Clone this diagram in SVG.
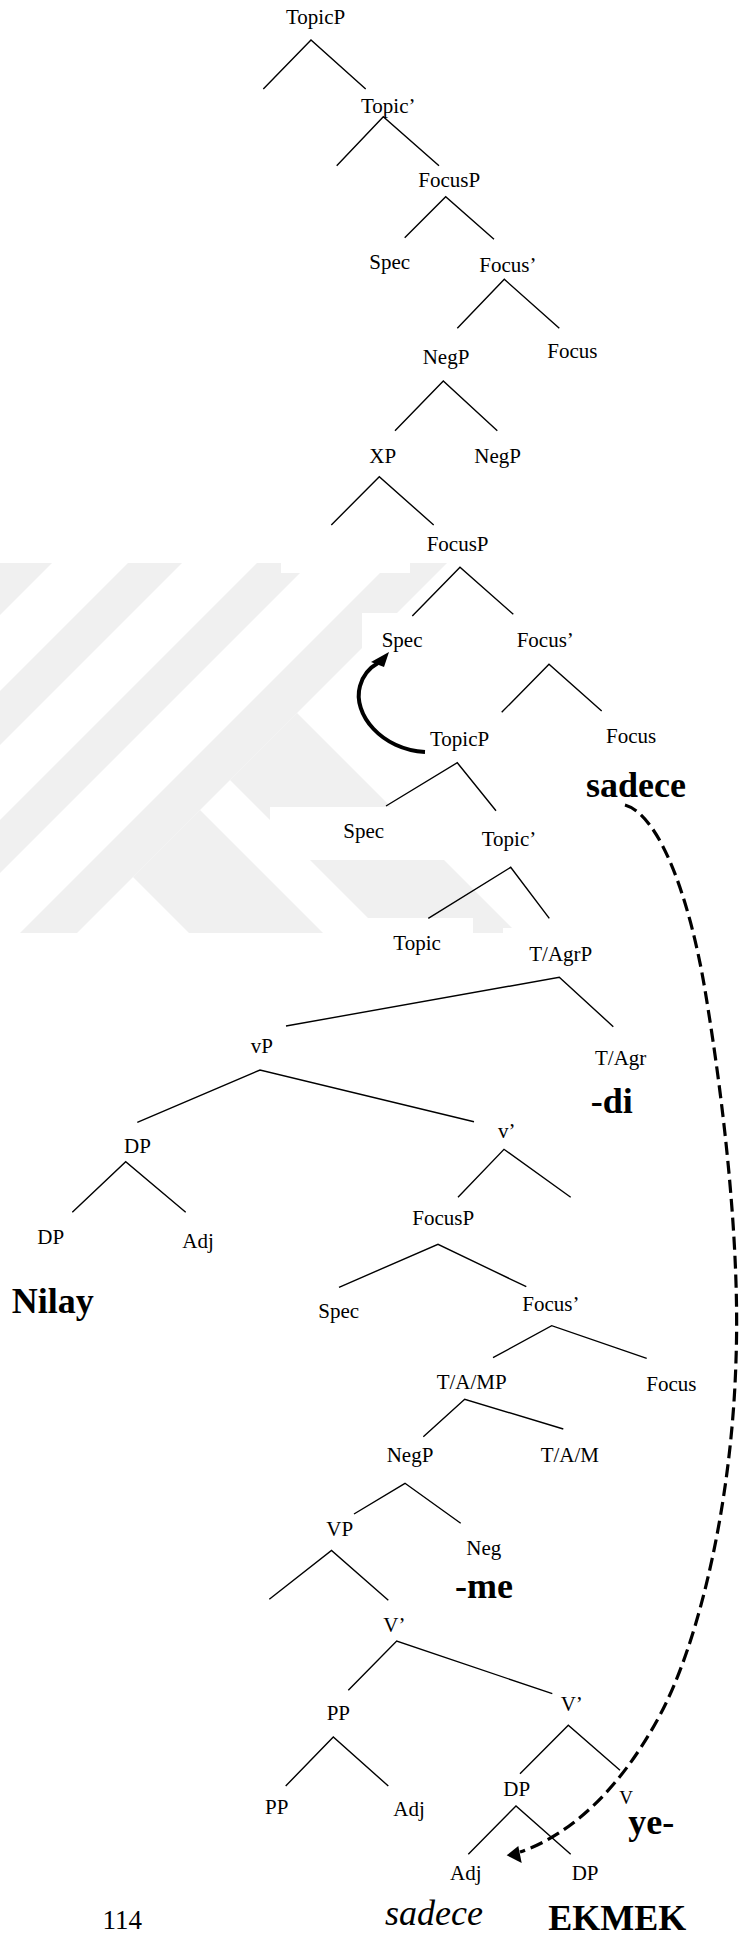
<svg xmlns="http://www.w3.org/2000/svg" width="744" height="1937" viewBox="0 0 744 1937">
<style>
.n{font-family:"Liberation Serif","Times New Roman",serif;font-size:21px;fill:#000}
.b{font-family:"Liberation Serif","Times New Roman",serif;font-size:36px;font-weight:bold;fill:#000}
.i{font-family:"Liberation Serif","Times New Roman",serif;font-size:36px;font-style:italic;fill:#000}
.e{fill:none;stroke:#000;stroke-width:1.4}
.wm{fill:#f0f0f0}
</style>
<defs>
<clipPath id="wmclip"><rect x="0" y="563" width="744" height="370"/></clipPath>
</defs>
<rect width="744" height="1937" fill="#fff"/>
<g id="watermark" clip-path="url(#wmclip)">
<polygon class="wm" points="0,563 52,563 0,615"/>
<polygon class="wm" points="128,563 182,563 0,745 0,691"/>
<polygon class="wm" points="257,563 310,563 0,873 0,820"/>
<polygon class="wm" points="390,563 447,563 77,933 20,933"/>
<polygon class="wm" points="297,713 517,933 383,933 230,780"/>
<polygon class="wm" points="200,810 323,933 189,933 133,877"/>
<rect x="281" y="561" width="129" height="12" fill="#fff"/>
<rect x="362" y="613" width="70" height="40" fill="#fff"/>
<rect x="270" y="807" width="300" height="53" fill="#fff"/>
<rect x="360" y="918" width="113" height="16" fill="#fff"/>
<rect x="503" y="928" width="20" height="6" fill="#fff"/>
</g>
<g id="connectors">
<polyline class="e" points="263.3,89 311,40 365.7,89"/>
<polyline class="e" points="336.7,165.7 383.3,116.7 439,165.7"/>
<polyline class="e" points="404.7,237.7 445.7,196.7 494,239.3"/>
<polyline class="e" points="457.3,328.3 504.3,279.3 559.3,328.3"/>
<polyline class="e" points="395,430.7 443.3,381 497.3,430.7"/>
<polyline class="e" points="331.3,525 379.3,476.7 433.7,525"/>
<polyline class="e" points="412.3,616 460,567.3 513.3,614.3"/>
<polyline class="e" points="501.7,712.3 549,664.3 601.7,711"/>
<polyline class="e" points="386,806 457.3,762.7 496,810.7"/>
<polyline class="e" points="428.3,918.3 510.7,867.3 549.3,918.3"/>
<polyline class="e" points="286,1026 559.3,977.3 613.3,1026.7"/>
<polyline class="e" points="137.3,1122.3 260,1070 474,1121.7"/>
<polyline class="e" points="72.3,1212.3 125.7,1161.7 185.7,1212.3"/>
<polyline class="e" points="458,1197.3 504,1149.3 570.7,1197.3"/>
<polyline class="e" points="339,1287.3 438,1244.3 526.3,1286.7"/>
<polyline class="e" points="493,1357.7 551.7,1325.7 646.7,1358.3"/>
<polyline class="e" points="423.3,1436.7 464.7,1399.3 563.3,1429"/>
<polyline class="e" points="354,1514 405,1483.3 460.7,1523.3"/>
<polyline class="e" points="269.3,1599.3 331.5,1550.5 388.3,1600.3"/>
<polyline class="e" points="348.3,1690.3 396.7,1641 552.3,1693.7"/>
<polyline class="e" points="285.7,1786 333.3,1737 388.3,1786"/>
<polyline class="e" points="520,1773.7 568.3,1725.3 620,1770.3"/>
<polyline class="e" points="468.3,1854.3 516,1806 570.7,1854.3"/>
<path d="M425,752 C382,750 352,714 360,686 C363,675 369,668 378,663" fill="none" stroke="#000" stroke-width="4"/>
<polygon points="389,652 384,667 371,662" fill="#000"/>
<path d="M625,805 C660,815 690,900 705,990 C725,1110 740,1250 736,1360 C732,1500 700,1640 660,1715 C620,1790 570,1835 520,1852" fill="none" stroke="#000" stroke-width="3.2" stroke-dasharray="13,6"/>
<polygon points="506.7,1855.3 518.3,1846 521.7,1863" fill="#000"/>
</g>
<g id="n1"><text class="n" x="286" y="24">TopicP</text></g>
<g id="n2"><text class="n" x="361" y="112.7">Topic’</text></g>
<g id="n3"><text class="n" x="418.3" y="186.7">FocusP</text></g>
<g id="n4"><text class="n" x="369.3" y="269.3">Spec</text></g>
<g id="n5"><text class="n" x="479.3" y="271.7">Focus’</text></g>
<g id="n6"><text class="n" x="422.7" y="364.3">NegP</text></g>
<g id="n7"><text class="n" x="547.3" y="357.7">Focus</text></g>
<g id="n8"><text class="n" x="369.3" y="462.7">XP</text></g>
<g id="n9"><text class="n" x="474.3" y="462.7">NegP</text></g>
<g id="n10"><text class="n" x="426.7" y="550.7">FocusP</text></g>
<g id="n11"><text class="n" x="381.7" y="646.7">Spec</text></g>
<g id="n12"><text class="n" x="516.7" y="646.7">Focus’</text></g>
<g id="n13"><text class="n" x="430" y="746">TopicP</text></g>
<g id="n14"><text class="n" x="606" y="742.7">Focus</text></g>
<g id="w1"><text class="b" x="586" y="797">sadece</text></g>
<g id="n15"><text class="n" x="343.3" y="838.3">Spec</text></g>
<g id="n16"><text class="n" x="481.7" y="846">Topic’</text></g>
<g id="n17"><text class="n" x="393.3" y="950">Topic</text></g>
<g id="n18"><text class="n" x="529.3" y="960.7">T/AgrP</text></g>
<g id="n19"><text class="n" x="595" y="1065">T/Agr</text></g>
<g id="w2"><text class="b" x="590.7" y="1113.3">-di</text></g>
<g id="n20"><text class="n" x="250.7" y="1053.3">vP</text></g>
<g id="n21"><text class="n" x="498" y="1138.3">v’</text></g>
<g id="n22"><text class="n" x="124" y="1153.3">DP</text></g>
<g id="n23"><text class="n" x="37.3" y="1244.3">DP</text></g>
<g id="n24"><text class="n" x="182.3" y="1248.3">Adj</text></g>
<g id="w3"><text class="b" x="11.7" y="1313.3">Nilay</text></g>
<g id="n25"><text class="n" x="412.3" y="1225">FocusP</text></g>
<g id="n26"><text class="n" x="318.3" y="1318.3">Spec</text></g>
<g id="n27"><text class="n" x="522.3" y="1310.7">Focus’</text></g>
<g id="n28"><text class="n" x="436.7" y="1389.3">T/A/MP</text></g>
<g id="n29"><text class="n" x="646.3" y="1390.7">Focus</text></g>
<g id="n30"><text class="n" x="386.7" y="1461.7">NegP</text></g>
<g id="n31"><text class="n" x="540.7" y="1461.7">T/A/M</text></g>
<g id="n32"><text class="n" x="326.3" y="1536">VP</text></g>
<g id="n33"><text class="n" x="466.3" y="1555">Neg</text></g>
<g id="w4"><text class="b" x="455" y="1597.7">-me</text></g>
<g id="n34"><text class="n" x="383.3" y="1632">V’</text></g>
<g id="n35"><text class="n" x="326.7" y="1720.3">PP</text></g>
<g id="n36"><text class="n" x="560.7" y="1711.3">V’</text></g>
<g id="n37"><text class="n" x="265" y="1813.7">PP</text></g>
<g id="n38"><text class="n" x="393.3" y="1816.3">Adj</text></g>
<g id="n39"><text class="n" x="503.3" y="1796.3">DP</text></g>
<g id="n40"><text class="n" x="619.3" y="1803.7" style="font-size:19px">V</text></g>
<g id="w5"><text class="b" x="628.3" y="1833.7">ye-</text></g>
<g id="n41"><text class="n" x="450" y="1880.3">Adj</text></g>
<g id="n42"><text class="n" x="571.7" y="1880.3">DP</text></g>
<g id="w6"><text class="i" x="385" y="1925.3">sadece</text></g>
<g id="w7"><text class="b" x="548.3" y="1930">EKMEK</text></g>
<g id="page"><text class="n" x="142" y="1929" text-anchor="end" style="font-size:27px">114</text></g>
</svg>
